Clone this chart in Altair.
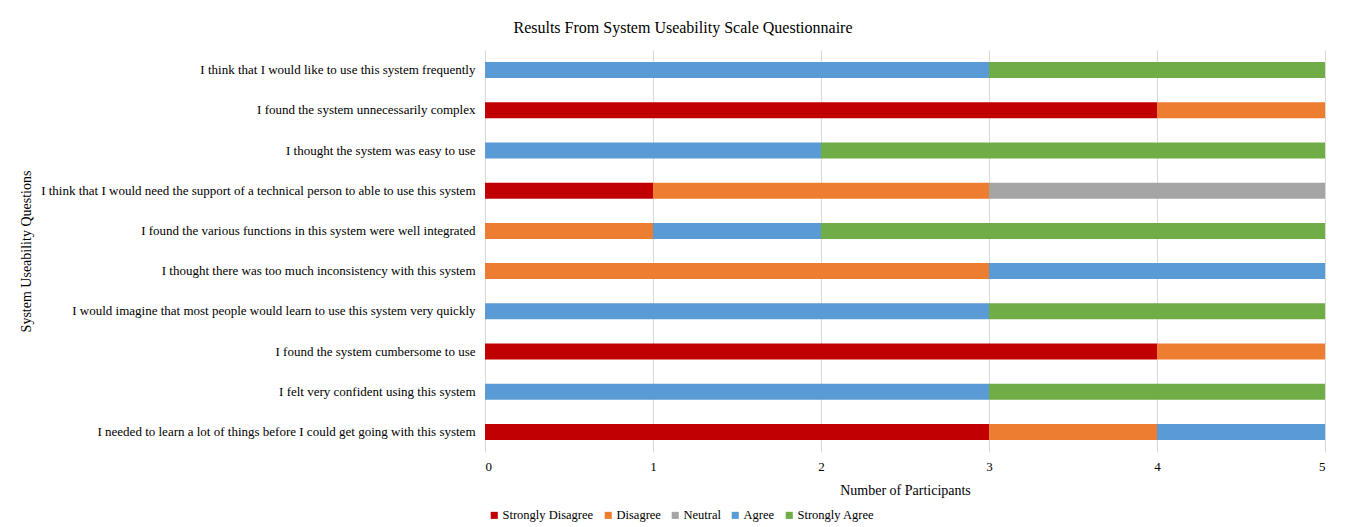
import altair as alt
import pandas as pd

questions = [
    "I think that I would like to use this system frequently",
    "I found the system unnecessarily complex",
    "I thought the system was easy to use",
    "I think that I would need the support of a technical person to able to use this system",
    "I found the various functions in this system were well integrated",
    "I thought there was too much inconsistency with this system",
    "I would imagine that most people would learn to use this system very quickly",
    "I found the system cumbersome to use",
    "I felt very confident using this system",
    "I needed to learn a lot of things before I could get going with this system",
]
responses = ["Strongly Disagree", "Disagree", "Neutral", "Agree", "Strongly Agree"]
colors = ["#C00000", "#ED7D31", "#A5A5A5", "#5B9BD5", "#70AD47"]

strongly_disagree = [0, 4, 0, 1, 0, 0, 0, 4, 0, 3]
disagree          = [0, 1, 0, 2, 1, 3, 0, 1, 0, 1]
neutral           = [0, 0, 0, 2, 0, 0, 0, 0, 0, 0]
agree             = [3, 0, 2, 0, 1, 2, 3, 0, 3, 1]
strongly_agree    = [2, 0, 3, 0, 3, 0, 2, 0, 2, 0]

series = [strongly_disagree, disagree, neutral, agree, strongly_agree]
rows = []
for ri, (resp, vals) in enumerate(zip(responses, series)):
    for q, v in zip(questions, vals):
        if v > 0:
            rows.append({"Question": q, "Response": resp, "Count": v, "order": ri})
df = pd.DataFrame(rows)

font = "Liberation Serif"

chart = alt.Chart(df).mark_bar(size=16).encode(
    y=alt.Y("Question:N", sort=questions,
            axis=alt.Axis(title="System Useability Questions", titleX=-452,
                          titleFontSize=14, titleFontWeight="normal", titleFont=font,
                          labelFont=font, labelFontSize=13, labelColor="#000",
                          labelLimit=500, labelPadding=10, ticks=False, domain=False,
                          titleColor="#000")),
    x=alt.X("Count:Q", stack="zero",
            scale=alt.Scale(domain=[0, 5], nice=False),
            axis=alt.Axis(title="Number of Participants", values=[0, 1, 2, 3, 4, 5],
                          format="d", grid=True, gridColor="#D9D9D9", domain=False,
                          ticks=False, labelFont=font, labelFontSize=13, labelColor="#000",
                          labelPadding=8, labelBound=False, titleFont=font, titleFontSize=14,
                          titleFontWeight="normal", titleColor="#000", titlePadding=10)),
    color=alt.Color("Response:N", sort=responses,
                    scale=alt.Scale(domain=responses, range=colors),
                    legend=alt.Legend(title=None, orient="none", direction="horizontal",
                                      legendX=3, legendY=459, symbolType="square",
                                      symbolSize=50, symbolStrokeWidth=0,
                                      labelFont=font, labelFontSize=12.5, labelColor="#000",
                                      columnPadding=8, labelOffset=2)),
    order=alt.Order("order:Q"),
).properties(
    width=840, height=402,
    title=alt.TitleParams("Results From System Useability Scale Questionnaire",
                          font=font, fontSize=16, fontWeight="normal", color="#000",
                          anchor="middle", dx=-222, offset=14),
    autosize=alt.AutoSizeParams(type="none"),
    padding={"left": 485, "top": 50, "right": 29, "bottom": 75},
).configure_view(stroke=None)

chart.save("out.html", embed_options={"renderer": "svg", "actions": False})
